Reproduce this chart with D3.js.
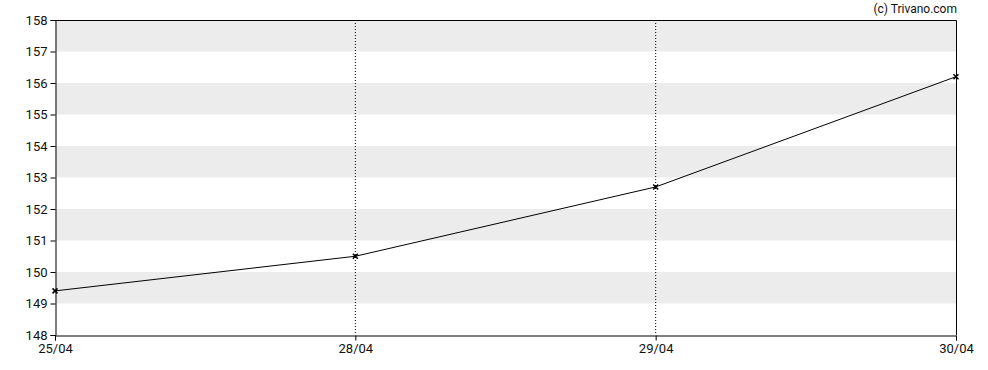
<!DOCTYPE html>
<html>
<head>
<meta charset="utf-8">
<script src="https://d3js.org/d3.v7.min.js"></script>
<style>
  body { margin: 0; background: #fff; }
  text { font-family: Roboto, "Noto Sans", sans-serif; fill: #111; }
</style>
</head>
<body>
<div id="chart"></div>
<script>
// data
var dates = ["25/04", "28/04", "29/04", "30/04"];
var prices = [149.4, 150.5, 152.7, 156.2];
var yTicks = [148, 149, 150, 151, 152, 153, 154, 155, 156, 157, 158];

var svgWidth = 988;
var svgHeight = 370;
var margin = { top: 20, right: 32, bottom: 35, left: 55 };
var width = svgWidth - margin.left - margin.right;
var height = svgHeight - margin.top - margin.bottom;

var svg = d3.select("#chart")
    .append("svg")
    .attr("width", svgWidth)
    .attr("height", svgHeight);

var chartGroup = svg.append("g")
    .attr("transform", `translate(${margin.left}, ${margin.top})`);

var xScale = d3.scalePoint()
    .domain(dates)
    .range([0, width]);

var yScale = d3.scaleLinear()
    .domain([148, 158])
    .range([height, 0]);

// alternating bands
chartGroup.selectAll(".band")
    .data(yTicks.filter(function(d) { return d % 2 === 1 && d < 158; }))
    .enter()
    .append("rect")
    .attr("x", 0)
    .attr("width", width)
    .attr("y", d => yScale(d + 1))
    .attr("height", d => yScale(d) - yScale(d + 1))
    .attr("fill", "#ececec");

// dotted verticals
chartGroup.selectAll(".vline")
    .data(dates.slice(1, -1))
    .enter()
    .append("line")
    .attr("x1", d => xScale(d))
    .attr("x2", d => xScale(d))
    .attr("y1", 0)
    .attr("y2", height)
    .attr("stroke", "#000")
    .attr("stroke-width", 1)
    .attr("stroke-dasharray", "1,2");

// frame top/right
chartGroup.append("path")
    .attr("d", `M0.5,0.5H${width + 0.5}V${height}`)
    .attr("fill", "none")
    .attr("stroke", "#000");

// axes
var bottomAxis = d3.axisBottom(xScale).tickSizeOuter(0).tickSize(5).tickPadding(3);
var leftAxis = d3.axisLeft(yScale).tickValues(yTicks).tickSizeOuter(0).tickSize(5).tickPadding(3);

var xAxisG = chartGroup.append("g")
    .attr("transform", `translate(0, ${height + 0.5})`)
    .call(bottomAxis);
var yAxisG = chartGroup.append("g")
    .attr("transform", "translate(0.5, 0)")
    .call(leftAxis);

[xAxisG, yAxisG].forEach(function(g) {
  g.selectAll("path, line").attr("stroke", "#000");
  g.selectAll("text")
    .attr("font-size", "13px")
    .attr("font-family", "Roboto, sans-serif")
    .attr("fill", "#111");
});

// line
var line = d3.line()
    .x((d, i) => xScale(dates[i]))
    .y(d => yScale(d));

chartGroup.append("path")
    .datum(prices)
    .attr("d", line)
    .attr("fill", "none")
    .attr("stroke", "#000")
    .attr("stroke-width", 1);

// x markers
chartGroup.selectAll(".mark")
    .data(prices)
    .enter()
    .append("path")
    .attr("transform", (d, i) => `translate(${xScale(dates[i])}, ${yScale(d)})`)
    .attr("d", "M-2.5,-2.5L2.5,2.5M-2.5,2.5L2.5,-2.5")
    .attr("stroke", "#000")
    .attr("stroke-width", 1.5);

// copyright
svg.append("text")
    .attr("x", 957)
    .attr("y", 13)
    .attr("text-anchor", "end")
    .attr("font-size", "12px")
    .text("(c) Trivano.com");
</script>
</body>
</html>
